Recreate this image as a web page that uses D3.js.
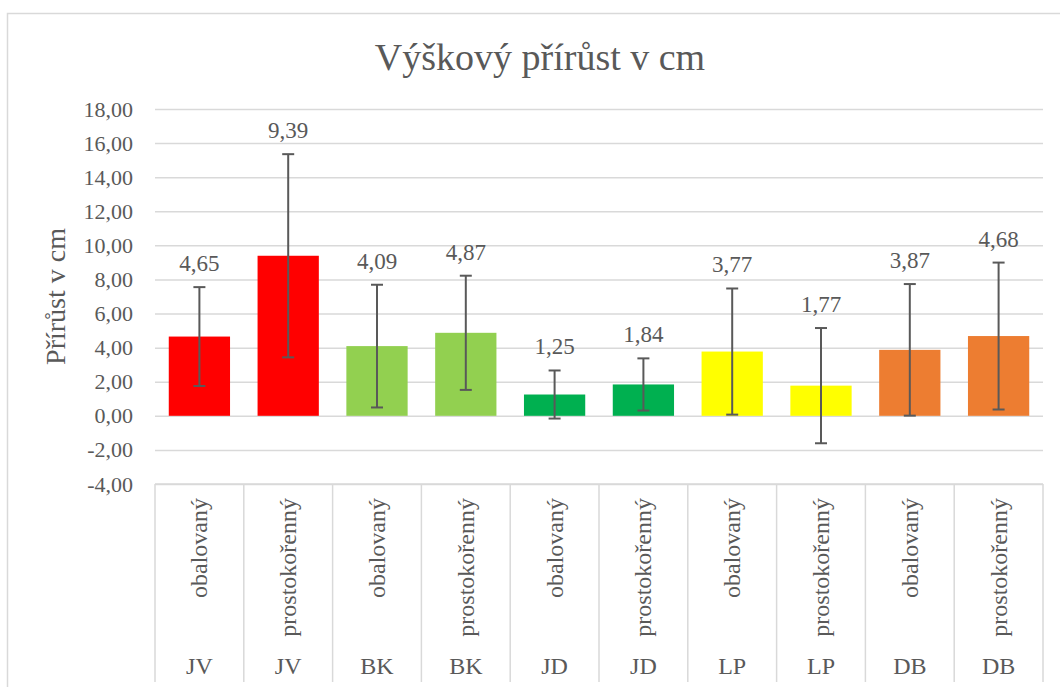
<!DOCTYPE html>
<html lang="cs">
<head>
<meta charset="UTF-8">
<title>Výškový přírůst v cm</title>
<script src="https://d3js.org/d3.v7.min.js"></script>
<style>
    body { margin: 0; background: #fff; }
    svg text { font-family: "Liberation Serif", "Times New Roman", serif; fill: #595959; }
</style>
</head>
<body>
<div id="chart"></div>
<script>
// data
const species = ["JV", "JV", "BK", "BK", "JD", "JD", "LP", "LP", "DB", "DB"];
const types = ["obalovaný", "prostokořenný", "obalovaný", "prostokořenný", "obalovaný",
               "prostokořenný", "obalovaný", "prostokořenný", "obalovaný", "prostokořenný"];
const values = [4.65, 9.39, 4.09, 4.87, 1.25, 1.84, 3.77, 1.77, 3.87, 4.68];
const errors = [2.90, 5.96, 3.60, 3.35, 1.41, 1.53, 3.70, 3.38, 3.86, 4.31];
const barColors = ["#FF0000", "#FF0000", "#92D050", "#92D050", "#00B050",
                   "#00B050", "#FFFF00", "#FFFF00", "#ED7D31", "#ED7D31"];
const yTicks = [-4, -2, 0, 2, 4, 6, 8, 10, 12, 14, 16, 18];

const W = 1060, H = 687;
const plot = { left: 155, right: 1043, top: 109, bottom: 484 };
const fmt = v => d3.format(".2f")(v).replace(".", ",").replace("\u2212", "-");

const svg = d3.select("#chart").append("svg")
    .attr("width", W).attr("height", H)
    .attr("font-family", "Liberation Serif");

// outer chart border
svg.append("rect")
    .attr("x", 7.5).attr("y", 13.5)
    .attr("width", W + 20).attr("height", H + 20)
    .attr("fill", "none").attr("stroke", "#D9D9D9").attr("stroke-width", 1.5);

const idx = d3.range(values.length);

const xCat = d3.scaleBand().domain(idx).range([plot.left, plot.right]);
const xBar = d3.scaleBand().domain(idx).range([plot.left, plot.right])
    .paddingInner(0.31).paddingOuter(0.155);
const y = d3.scaleLinear().domain([-4, 18]).range([plot.bottom, plot.top]);

// gridlines + y labels
const yAxis = svg.append("g")
    .attr("transform", `translate(${plot.left},0)`)
    .call(d3.axisLeft(y).tickValues(yTicks).tickFormat(fmt)
        .tickSize(-(plot.right - plot.left)).tickPadding(22));
yAxis.attr("font-family", "Liberation Serif");
yAxis.select(".domain").remove();
yAxis.selectAll(".tick line").attr("stroke", "#D9D9D9").attr("stroke-width", 1.5);
yAxis.selectAll(".tick text").attr("font-size", 22).style("fill", "#595959");

// y axis title
svg.append("text")
    .attr("transform", `translate(65,${(plot.top + plot.bottom) / 2}) rotate(-90)`)
    .attr("text-anchor", "middle")
    .attr("font-size", 28)
    .text("Přírůst v cm");

// title
svg.append("text")
    .attr("x", 540)
    .attr("y", 70)
    .attr("text-anchor", "middle")
    .attr("font-size", 38)
    .text("Výškový přírůst v cm");

// bars
svg.append("g").selectAll("rect")
    .data(idx).join("rect")
    .attr("x", i => xBar(i))
    .attr("width", xBar.bandwidth())
    .attr("y", i => y(Math.max(0, values[i])))
    .attr("height", i => Math.abs(y(values[i]) - y(0)))
    .attr("fill", i => barColors[i]);

// error bars
const eb = svg.append("g").attr("stroke", "#595959").attr("stroke-width", 2);
idx.forEach(i => {
    const cx = xCat(i) + xCat.bandwidth() / 2;
    const y1 = y(values[i] + errors[i]), y2 = y(values[i] - errors[i]);
    eb.append("line").attr("x1", cx).attr("x2", cx).attr("y1", y1).attr("y2", y2);
    eb.append("line").attr("x1", cx - 6).attr("x2", cx + 6).attr("y1", y1).attr("y2", y1);
    eb.append("line").attr("x1", cx - 6).attr("x2", cx + 6).attr("y1", y2).attr("y2", y2);
});

// data labels
svg.append("g").selectAll("text")
    .data(idx).join("text")
    .attr("x", i => xCat(i) + xCat.bandwidth() / 2)
    .attr("y", i => y(values[i] + errors[i]) - 16)
    .attr("text-anchor", "middle")
    .attr("font-size", 23)
    .text(i => fmt(values[i]));

// category axis (multi-level box)
const cat = svg.append("g").attr("stroke", "#D9D9D9").attr("stroke-width", 1.5);
cat.append("line")
    .attr("x1", plot.left).attr("x2", plot.right)
    .attr("y1", plot.bottom).attr("y2", plot.bottom);
d3.range(values.length + 1).forEach(k => {
    const xx = k < values.length ? xCat(k) : plot.right;
    cat.append("line").attr("x1", xx).attr("x2", xx)
        .attr("y1", plot.bottom).attr("y2", 682);
});

svg.append("g").selectAll("text")
    .data(idx).join("text")
    .attr("transform", i => `translate(${xCat(i) + xCat.bandwidth() / 2 + 8},498) rotate(-90)`)
    .attr("text-anchor", "end")
    .attr("font-size", 24)
    .text(i => types[i]);

svg.append("g").selectAll("text")
    .data(idx).join("text")
    .attr("x", i => xCat(i) + xCat.bandwidth() / 2)
    .attr("y", 674)
    .attr("text-anchor", "middle")
    .attr("font-size", 24)
    .text(i => species[i]);
</script>
</body>
</html>
